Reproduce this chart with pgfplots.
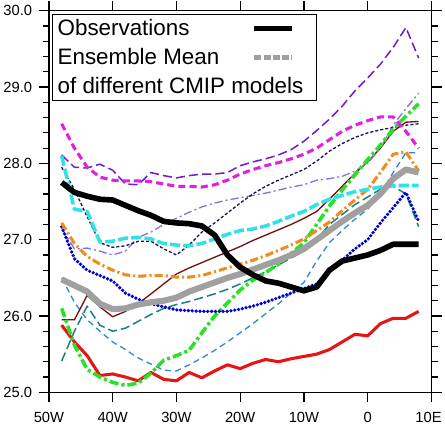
\documentclass[border=0pt]{standalone}
\usepackage{pgfplots}
\pgfplotsset{compat=1.18}
\usepackage{pgfplotstable}
\usepackage{fontspec}
\setmainfont{Liberation Sans}

\definecolor{cmag}{RGB}{225,30,225}
\definecolor{cpur}{RGB}{110,30,210}
\definecolor{ccya}{RGB}{50,225,230}
\definecolor{cnav}{RGB}{20,20,90}
\definecolor{clpu}{RGB}{130,115,225}
\definecolor{cora}{RGB}{240,140,30}
\definecolor{cblu}{RGB}{0,0,210}
\definecolor{cbro}{RGB}{120,15,15}
\definecolor{ctea}{RGB}{30,130,130}
\definecolor{cste}{RGB}{50,135,210}
\definecolor{cgre}{RGB}{40,225,40}
\definecolor{cred}{RGB}{230,20,20}
\definecolor{cgra}{RGB}{160,160,160}

\pgfplotstableread{
lon obs ens mag pur cya nav lpu ora blu bro tea ste gre red
-48 27.75 26.48 28.52 28.11 28.10 27.95 27.15 27.22 27.17 25.95 25.41 26.50 26.10 25.88
-46 27.62 26.40 28.20 27.95 27.40 27.66 26.88 26.95 26.75 25.95 25.80 26.18 25.62 25.66
-44 27.57 26.32 27.95 27.94 27.37 27.30 26.89 26.78 26.60 26.27 26.13 25.95 25.30 25.48
-42 27.53 26.16 27.82 27.99 26.97 26.96 26.85 26.68 26.53 26.12 25.88 25.80 25.20 25.22
-40 27.52 26.09 27.78 27.91 26.98 26.90 26.80 26.60 26.46 25.99 25.80 25.66 25.13 25.24
-38 27.45 26.10 27.77 27.73 27.02 26.92 26.85 26.54 26.30 26.06 25.84 25.56 25.09 25.20
-36 27.38 26.15 27.77 27.72 27.03 26.98 27.03 26.52 26.22 26.16 25.93 25.45 25.12 25.15
-34 27.32 26.18 27.76 27.88 27.01 26.98 27.10 26.53 26.16 26.29 26.02 25.37 25.25 25.26
-32 27.24 26.20 27.73 27.84 26.95 26.88 27.20 26.53 26.12 26.42 26.10 25.29 25.42 25.17
-30 27.22 26.24 27.70 27.81 26.93 26.80 27.28 26.51 26.08 26.55 26.15 25.28 25.48 25.15
-28 27.21 26.32 27.70 27.84 26.92 26.93 27.36 26.51 26.07 26.63 26.19 25.36 25.55 25.26
-26 27.18 26.38 27.69 27.86 26.95 27.10 27.43 26.53 26.06 26.70 26.24 25.45 25.78 25.19
-24 27.06 26.44 27.72 27.86 27.01 27.22 27.48 26.58 26.06 26.77 26.29 25.55 26.00 25.28
-22 26.80 26.50 27.78 27.88 27.07 27.35 27.52 26.63 26.06 26.84 26.35 25.66 26.17 25.36
-20 26.64 26.55 27.86 27.97 27.12 27.48 27.55 26.68 26.09 26.91 26.42 25.78 26.34 25.31
-18 26.54 26.61 27.92 28.02 27.14 27.60 27.58 26.73 26.13 26.99 26.50 25.90 26.47 25.38
-16 26.46 26.67 27.97 28.06 27.18 27.70 27.61 26.79 26.18 27.06 26.58 26.03 26.57 25.43
-14 26.43 26.73 28.01 28.11 27.24 27.78 27.65 26.86 26.24 27.13 26.67 26.16 26.68 25.40
-12 26.38 26.80 28.06 28.18 27.31 27.85 27.69 26.93 26.30 27.20 26.76 26.30 26.82 25.44
-10 26.33 26.88 28.12 28.29 27.37 27.92 27.72 27.01 26.36 27.28 26.85 26.44 26.96 25.47
-8 26.38 27.00 28.20 28.43 27.46 28.03 27.78 27.12 26.42 27.37 27.00 26.72 27.20 25.50
-6 26.60 27.12 28.31 28.58 27.53 28.16 27.80 27.23 26.60 27.53 27.20 26.96 27.44 25.56
-4 26.72 27.24 28.42 28.75 27.58 28.26 27.83 27.38 26.73 27.70 27.33 27.12 27.65 25.66
-2 26.76 27.35 28.50 28.95 27.63 28.34 27.90 27.52 26.88 27.87 27.46 27.27 27.85 25.76
0 26.80 27.45 28.56 29.12 27.66 28.40 28.00 27.66 27.00 28.02 27.56 27.40 28.05 25.74
2 26.86 27.60 28.61 29.30 27.69 28.44 28.20 27.88 27.22 28.20 27.66 27.60 28.24 25.90
4 26.94 27.80 28.61 29.52 27.71 28.47 28.50 28.12 27.42 28.42 27.70 27.88 28.45 25.97
6 26.94 27.92 28.42 29.78 27.71 28.50 28.72 28.15 27.62 28.54 27.60 28.14 28.62 25.97
8 26.94 27.88 28.20 29.38 27.71 28.52 28.92 27.90 27.24 28.55 27.17 28.14 28.78 26.06
}\data

\begin{document}
\begin{tikzpicture}
\begin{axis}[
  scale only axis, width=375bp, height=374bp,
  xmin=-50, xmax=10, ymin=25, ymax=30,
  xtick={-50,-40,...,10},
  xticklabels={50W,40W,30W,20W,10W,0,{\makebox[20bp][r]{10E}}},
  ytick={25,26,...,30},
  yticklabels={25.0,26.0,27.0,28.0,29.0,30.0},
  minor ytick={25.2,25.4,25.6,25.8,26.2,26.4,26.6,26.8,27.2,27.4,27.6,27.8,28.2,28.4,28.6,28.8,29.2,29.4,29.6,29.8},
  tick align=outside,
  major tick length=10bp, minor tick length=6bp,
  axis line style={line width=1.3bp},
  every tick/.style={black, line width=1.2bp},
  tick label style={font=\fontsize{14.5}{17}\selectfont},
  xticklabel style={yshift=-6bp},
  yticklabel style={xshift=-3bp},
  legend plot pos=right,
  legend cell align=left,
  legend style={at={(rel axis cs:0.008,0.992)}, anchor=north west, draw=black, line width=1.3bp,
    font=\fontsize{22}{26}\selectfont, row sep=7bp, inner xsep=3bp, inner ysep=3bp},
  legend image code/.code={\draw[#1] (0bp,0bp) -- (37bp,0bp); \path[draw=none] (0bp,0bp) -- (58bp,0bp);},
]
\addplot[forget plot, cste, line width=1.3bp, line join=round, dash pattern=on 6bp off 4bp] table[x=lon,y=ste]{\data};
\addplot[forget plot, ctea, line width=1.5bp, line join=round, dash pattern=on 9bp off 4bp] table[x=lon,y=tea]{\data};
\addplot[forget plot, cbro, line width=1.3bp, line join=round] table[x=lon,y=bro]{\data};
\addplot[forget plot, clpu, line width=1.3bp, line join=round, dash pattern=on 8bp off 3bp on 2bp off 3bp] table[x=lon,y=lpu]{\data};
\addplot[forget plot, cnav, line width=1.3bp, line join=round, dash pattern=on 3bp off 2bp] table[x=lon,y=nav]{\data};
\addplot[forget plot, cpur, line width=1.5bp, line join=round, dash pattern=on 9bp off 4bp] table[x=lon,y=pur]{\data};
\addplot[forget plot, cred, line width=3bp, line join=round] table[x=lon,y=red]{\data};
\addplot[forget plot, cgre, line width=3.5bp, line join=round, dash pattern=on 9bp off 3bp on 3bp off 3bp] table[x=lon,y=gre]{\data};
\addplot[forget plot, cblu, line width=3.6bp, line cap=round, dash pattern=on 0bp off 3.8bp] table[x=lon,y=blu]{\data};
\addplot[forget plot, cora, line width=3bp, line join=round, dash pattern=on 8bp off 3bp on 2bp off 3bp] table[x=lon,y=ora]{\data};
\addplot[forget plot, ccya, line width=3.5bp, line join=round, dash pattern=on 10bp off 3bp] table[x=lon,y=cya]{\data};
\addplot[forget plot, cmag, line width=3bp, line join=round, dash pattern=on 7bp off 4bp] table[x=lon,y=mag]{\data};
\addplot[forget plot, cgra, line width=6bp, line join=round] table[x=lon,y=ens]{\data};
\addplot[forget plot, black, line width=5.5bp, line join=round] table[x=lon,y=obs]{\data};
\addlegendimage{black, line width=5.5bp}
\addlegendimage{cgra, line width=4.5bp, dash pattern=on 7bp off 2bp}
\addlegendimage{empty legend}
\legend{\makebox[188bp][l]{Observations}, \makebox[188bp][l]{Ensemble Mean}, \rlap{of different CMIP models}}
\end{axis}
\end{tikzpicture}
\end{document}
